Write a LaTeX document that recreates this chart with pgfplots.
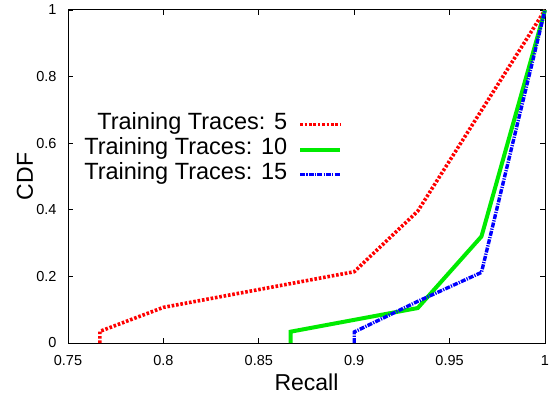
\documentclass[border=0pt]{standalone}
\usepackage{pgfplots}
\pgfplotsset{compat=1.18}
\usepackage{fontspec}
\setmainfont{Liberation Sans}
\definecolor{gr}{RGB}{0,235,0}
\begin{document}
\begin{tikzpicture}
\begin{axis}[
  scale only axis, width=477pt, height=333pt,
  xmin=0.75, xmax=1, ymin=0, ymax=1,
  clip=false,
  xtick={0.75,0.8,0.85,0.9,0.95,1},
  xticklabels={0.75,0.8,0.85,0.9,0.95,1},
  ytick={0,0.2,0.4,0.6,0.8,1},
  yticklabels={0,0.2,0.4,0.6,0.8,1},
  tick align=inside, major tick length=5pt,
  tick style={black, line width=0.7pt},
  axis line style={black, line width=1pt},
  ticklabel style={font=\fontsize{14.5}{16}\selectfont},
  xticklabel style={yshift=-9pt},
  yticklabel style={xshift=-8pt},
  xlabel={Recall}, ylabel={CDF},
  label style={font=\fontsize{23}{26}\selectfont},
  xlabel style={at={(axis description cs:0.5,-0.117)}, anchor=center},
  ylabel style={at={(axis description cs:-0.09,0.5)}, anchor=center},
  legend style={draw=none, fill=none, at={(axis description cs:0.5815,0.70)}, anchor=north east,
    font=\fontsize{23.5}{25}\selectfont, row sep=0pt, column sep=11pt,
    nodes={inner sep=0pt, text height=17pt, text depth=8pt}},
  legend cell align=right,
  legend plot pos=right,
  legend image code/.code={\draw[#1] (0pt,0pt) -- (40pt,0pt);},
]
\addplot[red, line width=3.6pt, dash pattern=on 2.6pt off 1.8pt] coordinates {
  (0.7667,0) (0.7667,0.035) (0.8,0.107) (0.9,0.214) (0.9333,0.396) (1,1)};
\addlegendentry{Training Traces: 5}
\addplot[gr, line width=4pt] coordinates {
  (0.8667,0) (0.8667,0.034) (0.9333,0.105) (0.9667,0.32) (1,1)};
\addlegendentry{Training Traces: 10}
\addplot[blue, line width=3.4pt, dash pattern=on 5pt off 1.2pt on 1.2pt off 1.2pt] coordinates {
  (0.9,0) (0.9,0.033) (0.9333,0.125) (0.9667,0.212) (1,1)};
\addlegendentry{Training Traces: 15}
\end{axis}
\pgfresetboundingbox
\path ([shift={(-68pt,-53pt)}]current axis.south west) rectangle ++(559pt,396pt);
\end{tikzpicture}
\end{document}
